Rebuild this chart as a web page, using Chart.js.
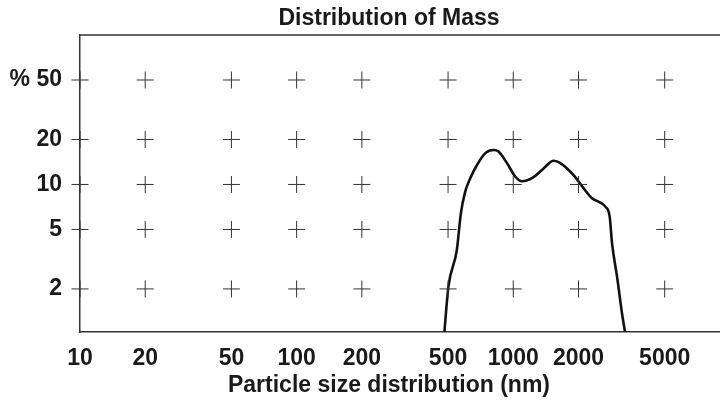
<!DOCTYPE html>
<html>
<head>
<meta charset="utf-8">
<script src="https://cdn.jsdelivr.net/npm/chart.js@4/dist/chart.umd.min.js"></script>
<style>
html,body{margin:0;padding:0;background:#fff;}
#wrap{width:720px;height:403px;position:relative;}
</style>
</head>
<body>
<div id="wrap"><canvas id="c" width="720" height="403"></canvas></div>
<script>
// ---- data ----
const chartTitle = "Distribution of Mass";
const xAxisTitle = "Particle size distribution (nm)";
const xTickValues = [10, 20, 50, 100, 200, 500, 1000, 2000, 5000];
const yTickValues = [2, 5, 10, 20, 50];
const yTickLabels = ["2", "5", "10", "20", "% 50"];
const sizeNm = [480, 502, 549, 573, 600, 633, 680, 743, 811, 855, 935, 1021, 1097, 1241, 1380, 1535, 1619, 1771, 1933, 2112, 2310, 2523, 2660, 2786, 2857, 3013, 3177, 3291];
const massPct = [1.0, 2.07, 3.65, 6.42, 8.95, 11.0, 13.5, 16.2, 17.0, 16.6, 13.9, 11.3, 10.5, 11.2, 12.8, 14.4, 14.1, 12.8, 11.2, 9.43, 8.09, 7.56, 7.11, 6.09, 4.04, 2.42, 1.37, 1.0];

const curve = sizeNm.map((x, i) => ({x: x, y: massPct[i]}));
const crosses = [];
xTickValues.forEach(x => yTickValues.forEach(y => crosses.push({x: x, y: y})));

const FONT = "'Liberation Sans', Arial, sans-serif";
const FS = 23;

const frame = {
  id: 'frame',
  afterDraw(chart) {
    const {ctx, chartArea} = chart;
    ctx.save();
    ctx.strokeStyle = '#333';
    ctx.lineWidth = 1.5;
    ctx.beginPath();
    ctx.moveTo(chartArea.left, chartArea.top);
    ctx.lineTo(chart.width, chartArea.top);
    ctx.stroke();
    ctx.fillStyle = '#1a1a1a';
    ctx.font = "bold " + FS + "px " + FONT;
    ctx.textAlign = 'center';
    ctx.textBaseline = 'middle';
    ctx.fillText(chartTitle, 389, 19);
    ctx.fillText(xAxisTitle, 389, 386);
    ctx.restore();
  }
};

new Chart(document.getElementById('c'), {
  type: 'line',
  data: {
    datasets: [
      {
        label: 'grid',
        data: crosses,
        showLine: false,
        pointStyle: 'cross',
        pointRadius: 8.5,
        pointHoverRadius: 8.5,
        pointBorderWidth: 1,
        borderColor: '#333',
        backgroundColor: '#333',
        clip: false
      },
      {
        label: 'mass',
        data: curve,
        borderColor: '#111',
        borderWidth: 2.6,
        pointRadius: 0,
        cubicInterpolationMode: 'monotone',
        fill: false
      }
    ]
  },
  options: {
    responsive: false,
    animation: false,
    layout: {autoPadding: false, padding: {left: 0, right: 0, top: 35, bottom: 0}},
    plugins: {legend: {display: false}, tooltip: {enabled: false}, title: {display: false}},
    scales: {
      x: {
        type: 'logarithmic',
        min: 10,
        max: 9000,
        afterBuildTicks: s => { s.ticks = xTickValues.map(v => ({value: v})); },
        afterFit: s => { s.height = 71; },
        grid: {display: false, drawTicks: false},
        border: {display: true, color: '#333', width: 1.5},
        ticks: {
          autoSkip: false, maxRotation: 0, padding: 13,
          color: '#1a1a1a',
          font: {family: FONT, size: FS, weight: 'bold'},
          callback: v => String(v)
        },
        title: {display: false}
      },
      y: {
        type: 'logarithmic',
        min: 1.03,
        max: 100,
        afterBuildTicks: s => { s.ticks = yTickValues.map(v => ({value: v})); },
        afterFit: s => { s.width = 80; },
        grid: {display: false, drawTicks: false},
        border: {display: true, color: '#333', width: 1.5},
        ticks: {
          autoSkip: false, padding: 18,
          color: '#1a1a1a',
          font: {family: FONT, size: FS, weight: 'bold'},
          callback: v => yTickLabels[yTickValues.indexOf(v)] ?? ''
        }
      }
    }
  },
  plugins: [frame]
});
</script>
</body>
</html>
